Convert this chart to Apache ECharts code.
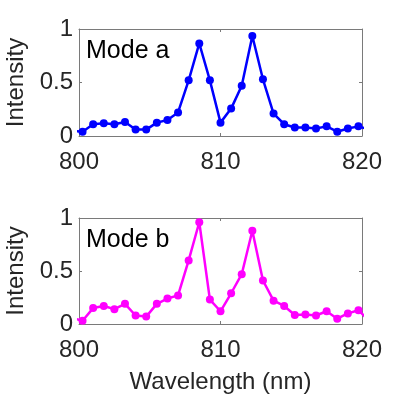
<!DOCTYPE html>
<html>
<head>
<meta charset="utf-8">
<script src="https://cdn.jsdelivr.net/npm/echarts@6/dist/echarts.min.js"></script>
<style>
  html, body { margin: 0; padding: 0; background: #fff; }
  #chart { width: 399px; height: 399px; }
</style>
</head>
<body>
<div id="chart"></div>
<script>
const wavelength = [799.5, 800.25, 801, 801.75, 802.5, 803.25, 804, 804.75, 805.5, 806.25, 807, 807.75,
  808.5, 809.25, 810, 810.75, 811.5, 812.25, 813, 813.75, 814.5, 815.25, 816, 816.75, 817.5,
  818.25, 819, 819.75, 820.5];
const modeA = [0.05, 0.04, 0.11, 0.12, 0.11, 0.13, 0.06, 0.06, 0.125, 0.15, 0.22, 0.52,
  0.865, 0.52, 0.125, 0.256, 0.47, 0.934, 0.53, 0.21, 0.11, 0.08, 0.08, 0.07, 0.09,
  0.04, 0.07, 0.09, 0.06];
const modeB = [0.057, 0.03, 0.15, 0.17, 0.14, 0.19, 0.08, 0.07, 0.19, 0.24, 0.27, 0.6,
  0.96, 0.23, 0.12, 0.29, 0.47, 0.88, 0.41, 0.22, 0.17, 0.085, 0.09, 0.08, 0.12,
  0.05, 0.1, 0.13, 0.03];
const panelLabels = ["Mode a", "Mode b"];
const xTicks = [800, 810, 820];
const yTicks = [0, 0.5, 1];

const chart = echarts.init(document.getElementById("chart"));

const FONT = "Liberation Sans";
const TXT = "#262626";
const BOX = "#7a7a7a";
const FS = 24;

const grids = [
  { left: 79, right: 37, top: 29, height: 107, outerBoundsMode: "none", containLabel: false },
  { left: 79, right: 37, top: 218, height: 106, outerBoundsMode: "none", containLabel: false }
];

function xAxisFor(i, pos, labels) {
  return {
    type: "value",
    gridIndex: i,
    position: pos,
    min: xTicks[0],
    max: xTicks[xTicks.length - 1],
    interval: 10,
    axisLine: { show: true, onZero: false, lineStyle: { color: BOX, width: 1 } },
    axisTick: { show: true, inside: true, length: 3, lineStyle: { color: BOX } },
    axisLabel: { show: labels, margin: 14, fontSize: FS, color: TXT, fontFamily: FONT },
    splitLine: { show: false },
    name: labels && i === 1 ? "Wavelength (nm)" : "",
    nameLocation: "middle",
    nameGap: 46,
    nameTextStyle: { fontSize: FS, color: TXT, fontFamily: FONT }
  };
}

function yAxisFor(i, pos, labels) {
  return {
    type: "value",
    gridIndex: i,
    position: pos,
    min: yTicks[0],
    max: yTicks[yTicks.length - 1],
    interval: 0.5,
    axisLine: { show: true, onZero: false, lineStyle: { color: BOX, width: 1 } },
    axisTick: { show: true, inside: true, length: 3, lineStyle: { color: BOX } },
    axisLabel: {
      show: labels, margin: 6, fontSize: FS, color: TXT, fontFamily: FONT,
      formatter: (v) => String(v)
    },
    splitLine: { show: false },
    name: labels ? "Intensity" : "",
    nameLocation: "middle",
    nameGap: 49,
    nameTextStyle: { fontSize: FS, color: TXT, fontFamily: FONT }
  };
}

const xAxes = [];
const yAxes = [];
for (let i = 0; i < 2; i++) {
  xAxes.push(xAxisFor(i, "bottom", true));
  xAxes.push(xAxisFor(i, "top", false));
  yAxes.push(yAxisFor(i, "left", true));
  yAxes.push(yAxisFor(i, "right", false));
}

function makeSeries(values, color, idx) {
  return {
    type: "line",
    xAxisIndex: idx * 2,
    yAxisIndex: idx * 2,
    data: wavelength.map((w, k) => [w, values[k]]),
    clip: true,
    symbol: "circle",
    symbolSize: 8,
    showAllSymbol: true,
    lineStyle: { color: color, width: 2.5 },
    itemStyle: { color: color },
    animation: false
  };
}

chart.setOption({
  animation: false,
  grid: grids,
  xAxis: xAxes,
  yAxis: yAxes,
  title: panelLabels.map((t, i) => ({
    text: t,
    left: 81,
    top: grids[i].top + 5,
    textStyle: { fontSize: 25, fontWeight: "normal", color: "#000", fontFamily: FONT }
  })),
  series: [
    makeSeries(modeA, "#0000ff", 0),
    makeSeries(modeB, "#ff00ff", 1)
  ]
});

window.addEventListener("resize", () => chart.resize());
</script>
</body>
</html>
